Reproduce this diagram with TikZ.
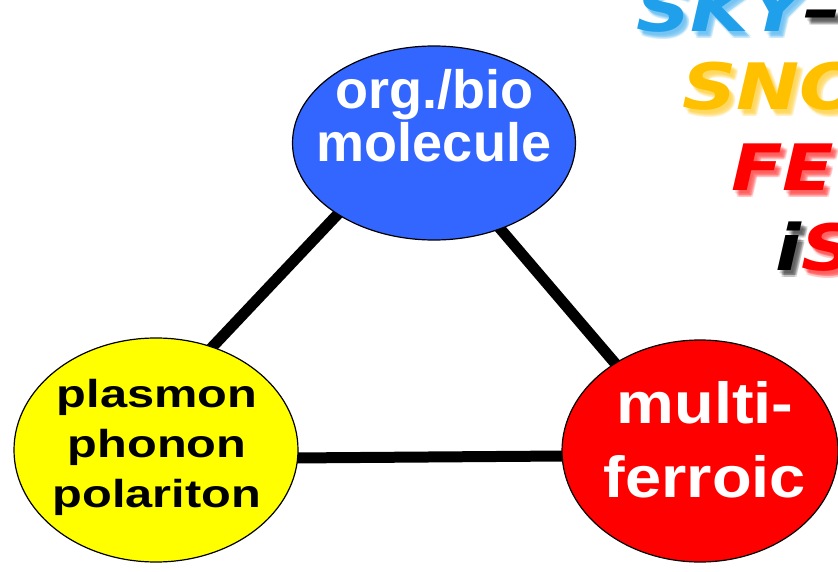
\documentclass[tikz,border=0pt]{standalone}
\usepackage{fontspec}
\setmainfont{Liberation Sans}
\newfontfamily\bubblefont{Liberation Sans}
\newfontfamily\widebubblefont[FakeStretch=1.25]{Liberation Sans}
\newfontfamily\redbubblefont[FakeStretch=1.12]{Liberation Sans}
\newfontfamily\tagfont[FakeStretch=1.18]{DejaVu Sans}
\usetikzlibrary{shapes.geometric,backgrounds}

\definecolor{bubbleblue}{RGB}{51,102,255}
\definecolor{bubbleyellow}{RGB}{255,255,0}
\definecolor{bubblered}{RGB}{255,0,0}
\definecolor{skyblue}{RGB}{32,160,235}
\definecolor{snowgold}{RGB}{255,192,0}
\definecolor{ferrored}{RGB}{255,0,0}

\tikzset{
  bubble/.style={ellipse, draw=black, line width=1.2pt, inner sep=0pt},
  bubbletext/.style={align=center, inner sep=0pt},
  link/.style={line width=11pt, draw=black},
  tag/.style={anchor=base west, inner sep=0pt,
    font=\tagfont\bfseries\itshape\fontsize{64}{64}\selectfont},
  tagshadow/.style={tag, text=black!60, opacity=0.13},
}

% a headline word with a soft drop shadow below and right of it
\newcommand{\tagline}[3]{%
  \foreach \dx/\dy in {2/-3,3/-4,4/-5,5/-6,6/-7,4/-7,6/-5}{%
    \node[tagshadow] at ([xshift=\dx pt,yshift=\dy pt]#1) {#3};}
  \node[tag] (#2) at (#1) {#3};
}

\begin{document}
\begin{tikzpicture}[x=1pt,y=-1pt]
  \useasboundingbox (0,0) rectangle (838,572);
  \clip (0,0) rectangle (838,572);

  % the three fields
  \node[bubble, fill=bubbleblue, minimum width=283pt, minimum height=194pt]
    (bio) at (434,143) {};
  \node[bubble, fill=bubbleyellow, minimum width=284pt, minimum height=224pt]
    (pol) at (156,450) {};
  \node[bubble, fill=bubblered, minimum width=276pt, minimum height=222pt]
    (mf) at (700,451) {};

  \node[bubbletext, text=white, font=\bubblefont\bfseries\fontsize{54}{53}\selectfont]
    (biotext) at (434,116) {org./bio\\molecule};
  \node[bubbletext, text=black, font=\widebubblefont\bfseries\fontsize{39}{50}\selectfont]
    (poltext) at (157,447) {plasmon\\phonon\\polariton};
  \node[bubbletext, text=white, font=\redbubblefont\bfseries\fontsize{58}{74}\selectfont]
    (mftext) at (705,440) {multi-\\ferroic};

  % links between the fields
  \begin{scope}[on background layer]
    \draw[link] ([xshift=-29pt]bio.center) -- ([xshift=-41pt]pol.center);
    \draw[link] ([xshift=-7pt]bio.center) -- ([xshift=-10pt]mf.center);
    \draw[link] ([yshift=-9pt]pol.center) -- ([yshift=-4pt]mf.center);
  \end{scope}

  % headline words in the corner
  \coordinate (t1) at (636,32);
  \coordinate (t2) at (682,110);
  \coordinate (t3) at (731,191);
  \coordinate (t4) at (775,270);
  \tagline{t1}{sky}{\textcolor{skyblue}{SKY}\textcolor{black}{–}}
  \tagline{t2}{sno}{\textcolor{snowgold}{SNO}}
  \tagline{t3}{fe}{\textcolor{ferrored}{FE}}
  \tagline{t4}{is}{\textcolor{black}{i}\textcolor{ferrored}{S}}
\end{tikzpicture}
\end{document}
